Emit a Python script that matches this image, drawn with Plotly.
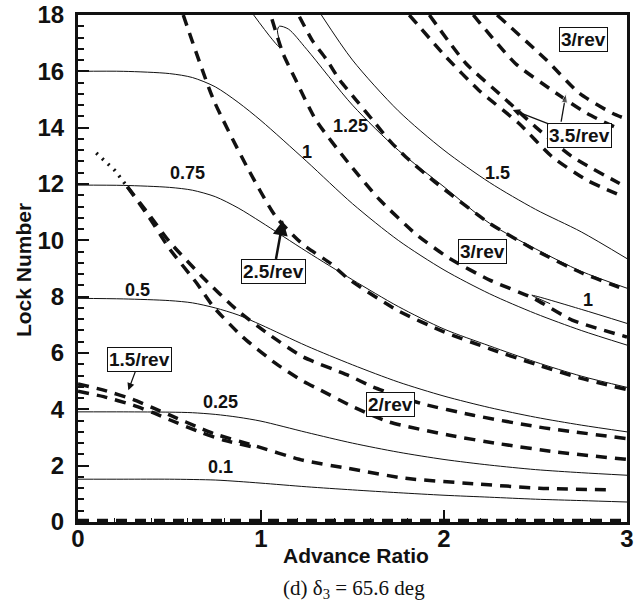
import plotly.graph_objects as go

# ---------------- data ----------------
# solid contours : x = advance ratio, y = Lock number
c010_x = [0, 0.25, 0.5, 0.75, 0.875, 1.0, 1.25, 1.5, 1.75, 2.0, 2.25, 2.5, 2.75, 3.0]
c010_y = [1.52, 1.52, 1.52, 1.49, 1.44, 1.38, 1.25, 1.14, 1.04, 0.95, 0.88, 0.81, 0.76, 0.71]
c025_x = [0, 0.25, 0.5, 0.625, 0.75, 0.875, 1.0, 1.25, 1.5, 1.75, 2.0, 2.25, 2.5, 2.75, 3.0]
c025_y = [3.91, 3.91, 3.90, 3.88, 3.82, 3.72, 3.58, 3.18, 2.80, 2.48, 2.22, 2.02, 1.86, 1.75, 1.66]
c050_x = [0, 0.25, 0.5, 0.625, 0.75, 0.875, 1.0, 1.25, 1.5, 1.75, 2.0, 2.25, 2.5, 2.75, 3.0]
c050_y = [7.94, 7.92, 7.86, 7.78, 7.60, 7.35, 7.00, 6.25, 5.58, 4.97, 4.47, 4.06, 3.72, 3.44, 3.20]
c075_x = [0, 0.25, 0.5, 0.625, 0.75, 0.875, 1.0, 1.25, 1.5, 1.75, 2.0, 2.25, 2.5, 2.75, 3.0]
c075_y = [11.96, 11.95, 11.88, 11.78, 11.55, 11.15, 10.65, 9.60, 8.60, 7.65, 6.85, 6.25, 5.68, 5.18, 4.78]
c100_x = [0, 0.25, 0.5, 0.625, 0.75, 0.875, 1.0, 1.25, 1.5, 1.75, 2.0, 2.25, 2.5, 2.75, 3.0]
c100_y = [16.0, 16.0, 15.92, 15.78, 15.45, 14.9, 14.25, 12.8, 11.3, 10.0, 8.95, 8.1, 7.4, 6.8, 6.28]
c100b_x = [2.58, 2.48, 2.75, 3.0]
c100b_y = [7.75, 8.05, 7.55, 7.05]
c125_x = [0.96, 1.105, 1.09, 1.10, 1.15, 1.25, 1.5, 1.75, 2.0, 2.25, 2.5, 2.75, 3.0]
c125_y = [18.0, 16.85, 17.45, 17.6, 17.5, 16.78, 14.8, 13.2, 11.9, 10.6, 9.7, 8.9, 8.3]
c150_x = [1.33, 1.5, 1.75, 2.0, 2.25, 2.5, 2.75, 3.0]
c150_y = [18.0, 16.4, 14.6, 13.2, 12.05, 11.1, 10.3, 9.35]

# dashed frequency lines (n/rev)
axis_x = [0, 3]
axis_y = [0.05, 0.05]
rev15a_x = [0, 0.14, 0.3, 0.41, 0.5, 0.68, 0.75, 0.96, 1.23, 1.48, 1.79, 2.16, 2.52, 2.92]
rev15a_y = [4.9, 4.68, 4.35, 4.05, 3.8, 3.3, 3.12, 2.72, 2.19, 1.9, 1.55, 1.36, 1.2, 1.14]
rev15b_x = [0, 0.14, 0.3, 0.41, 0.5, 0.68, 0.8, 0.96]
rev15b_y = [4.64, 4.45, 4.15, 3.88, 3.63, 3.16, 2.9, 2.66]
dot_x = [0.10, 0.20, 0.27]
dot_y = [13.1, 12.49, 11.9]
rev20a_x = [0.27, 0.39, 0.5, 0.68, 0.87, 1.05, 1.23, 1.48, 1.61, 1.88, 2.16, 2.52, 3.0]
rev20a_y = [11.9, 10.9, 9.95, 8.7, 7.52, 6.63, 5.86, 5.2, 4.8, 4.2, 3.79, 3.37, 2.96]
rev20b_x = [0.27, 0.39, 0.5, 0.65, 0.74, 0.90, 1.08, 1.23, 1.32, 1.5, 1.70, 2.03, 2.30, 2.61, 3.0]
rev20b_y = [11.9, 10.8, 9.7, 8.47, 7.64, 6.57, 5.63, 5.0, 4.7, 4.1, 3.55, 3.08, 2.78, 2.49, 2.22]
rev25_x = [0.575, 0.74, 0.92, 1.08, 1.23, 1.38, 1.48, 1.75, 2.0, 2.25, 2.5, 2.75, 3.0]
rev25_y = [18.0, 15.0, 12.65, 10.85, 9.85, 9.18, 8.62, 7.5, 6.75, 6.15, 5.6, 5.1, 4.7]
rev30a_x = [1.06, 1.12, 1.19, 1.30, 1.48, 1.65, 1.85, 2.03, 2.25, 2.49, 2.70, 3.0]
rev30a_y = [17.85, 16.64, 15.69, 14.27, 12.73, 11.43, 10.2, 9.36, 8.59, 7.94, 7.17, 6.57]
rev30b_x = [1.21, 1.28, 1.36, 1.43, 1.52, 1.61, 1.70, 1.79, 1.96, 2.25, 2.5, 2.75, 3.0]
rev30b_y = [17.94, 17.1, 16.4, 15.69, 14.98, 14.27, 13.56, 12.97, 12.02, 10.6, 9.65, 8.85, 8.23]
rev35a_x = [1.81, 2.01, 2.19, 2.41, 2.59, 2.78, 2.98]
rev35a_y = [18.0, 16.52, 15.33, 14.15, 12.97, 12.14, 11.55]
rev35b_x = [1.92, 2.12, 2.32, 2.50, 2.70, 2.96]
rev35b_y = [18.0, 16.28, 15.1, 14.03, 12.97, 12.02]
rev30c_x = [2.16, 2.39, 2.59, 2.78, 2.97]
rev30c_y = [18.0, 16.28, 15.33, 14.51, 13.91]
rev30d_x = [2.29, 2.56, 2.74, 2.92, 3.0]
rev30d_y = [18.0, 16.4, 15.22, 14.51, 14.3]

# contour labels
num_labels = ["0.1", "0.25", "0.5", "0.75", "1", "1.25", "1.5", "1"]
num_lx = [0.78, 0.78, 0.325, 0.60, 1.25, 1.49, 2.29, 2.785]
num_ly = [1.95, 4.26, 8.23, 12.38, 13.14, 14.06, 12.4, 7.88]
# boxed labels; tip = where the arrow points (None = no arrow)
box_labels = ["1.5/rev", "2/rev", "2.5/rev", "3/rev", "3/rev", "3.5/rev"]
box_lx = [0.338, 1.71, 1.07, 2.21, 2.76, 2.74]
box_ly = [5.77, 4.17, 8.91, 9.62, 17.14, 13.71]
box_tip_x = [0.275, None, 1.12, None, None, 2.376]
box_tip_y = [4.68, None, 10.71, None, None, 14.63]
box_arrow_w = [1.2, 0, 2.5, 0, 0, 1.2]
# extra arrow from the 3.5/rev box
arr2_x = [2.64, 2.667]
arr2_y = [14.21, 15.22]

INK = "#111111"
FONT = "Liberation Sans, Arial, sans-serif"
fig = go.Figure()

solid = dict(color=INK, width=1)
for xs, ys in [(c010_x, c010_y), (c025_x, c025_y), (c050_x, c050_y), (c075_x, c075_y),
               (c100_x, c100_y), (c100b_x, c100b_y), (c125_x, c125_y), (c150_x, c150_y)]:
    fig.add_trace(go.Scatter(x=xs, y=ys, mode="lines",
                             line=dict(shape="spline", smoothing=0.8, **solid),
                             showlegend=False, hoverinfo="skip"))

dash = dict(color=INK, width=3.5, dash="11px,8px")
for xs, ys in [(axis_x, axis_y), (rev15a_x, rev15a_y), (rev15b_x, rev15b_y),
               (rev20a_x, rev20a_y), (rev20b_x, rev20b_y), (rev25_x, rev25_y),
               (rev30a_x, rev30a_y), (rev30b_x, rev30b_y), (rev35a_x, rev35a_y),
               (rev35b_x, rev35b_y), (rev30c_x, rev30c_y), (rev30d_x, rev30d_y)]:
    fig.add_trace(go.Scatter(x=xs, y=ys, mode="lines",
                             line=dict(shape="spline", smoothing=0.6, **dash),
                             showlegend=False, hoverinfo="skip"))

fig.add_trace(go.Scatter(x=dot_x, y=dot_y, mode="lines",
                         line=dict(color=INK, width=3.5, dash="2px,6px"),
                         showlegend=False, hoverinfo="skip"))

# second arrow of the 3.5/rev label
fig.add_trace(go.Scatter(x=arr2_x, y=arr2_y, mode="lines+markers",
                         line=dict(color=INK, width=1.3),
                         marker=dict(symbol="arrow", size=[0, 10], angleref="previous", color=INK),
                         showlegend=False, hoverinfo="skip"))

ann = []
for t, x, y in zip(num_labels, num_lx, num_ly):
    ann.append(dict(x=x, y=y, xref="x", yref="y", text="<b>%s</b>" % t, showarrow=False,
                    xanchor="center", yanchor="middle",
                    font=dict(family=FONT, size=18, color=INK)))
for t, x, y, tx, ty, w in zip(box_labels, box_lx, box_ly, box_tip_x, box_tip_y, box_arrow_w):
    a = dict(text="<b>%s</b>" % t, xref="x", yref="y",
             font=dict(family=FONT, size=19, color=INK),
             bordercolor=INK, borderwidth=1, borderpad=1, bgcolor="white")
    if tx is None:
        a.update(x=x, y=y, showarrow=False, xanchor="center", yanchor="middle")
    else:
        a.update(x=tx, y=ty, ax=x, ay=y, axref="x", ayref="y", showarrow=True,
                 arrowhead=2, arrowsize=1.2, arrowwidth=w, arrowcolor=INK)
    ann.append(a)

ann.append(dict(x=0.506, y=-0.066, xref="paper", yref="paper", text="<b>Advance Ratio</b>",
                xanchor="center", yanchor="middle", showarrow=False,
                font=dict(family=FONT, size=21, color=INK)))
ann.append(dict(x=-0.1, y=0.497, xref="paper", yref="paper", text="<b>Lock Number</b>",
                textangle=-90, xanchor="center", yanchor="middle", showarrow=False,
                font=dict(family=FONT, size=21, color=INK)))
ann.append(dict(x=0.503, y=-0.132, xref="paper", yref="paper",
                text="(d) δ<sub>3</sub> = 65.6 deg", showarrow=False,
                xanchor="center", yanchor="middle",
                font=dict(family="Liberation Serif, Times New Roman, serif", size=21, color=INK)))

axis_common = dict(showgrid=False, zeroline=False, showline=True, linecolor=INK, linewidth=3,
                   mirror=True, ticks="inside", tickcolor=INK, tickwidth=2,
                   ticklabeloverflow="allow",
                   tickfont=dict(family=FONT, size=24, color=INK))

fig.update_layout(
    width=643, height=609,
    margin=dict(l=78, r=16, t=15, b=87, autoexpand=False),
    paper_bgcolor="white", plot_bgcolor="white",
    annotations=ann,
    xaxis=dict(range=[0, 3], tickvals=[0, 1, 2, 3],
               ticktext=["<b>0</b>", "<b>1</b>", "<b>2</b>", "<b>3</b>"],
               ticklen=12, ticklabelstandoff=-7,
               minor=dict(dtick=0.2, ticks="inside", ticklen=4, tickwidth=1, tickcolor=INK),
               **axis_common),
    yaxis=dict(range=[0, 18], tickvals=[0, 2, 4, 6, 8, 10, 12, 14, 16, 18],
               ticktext=["<b>%d</b>" % v for v in [0, 2, 4, 6, 8, 10, 12, 14, 16, 18]],
               ticklen=11, ticklabelstandoff=6,
               minor=dict(dtick=0.4, ticks="inside", ticklen=6, tickwidth=1.5, tickcolor=INK),
               **axis_common),
)

# remove the default 8px page margin so the figure sits at the window origin
fig.write_html("out.html", config={"displayModeBar": False},
               post_script="document.body.style.margin='0px';")
